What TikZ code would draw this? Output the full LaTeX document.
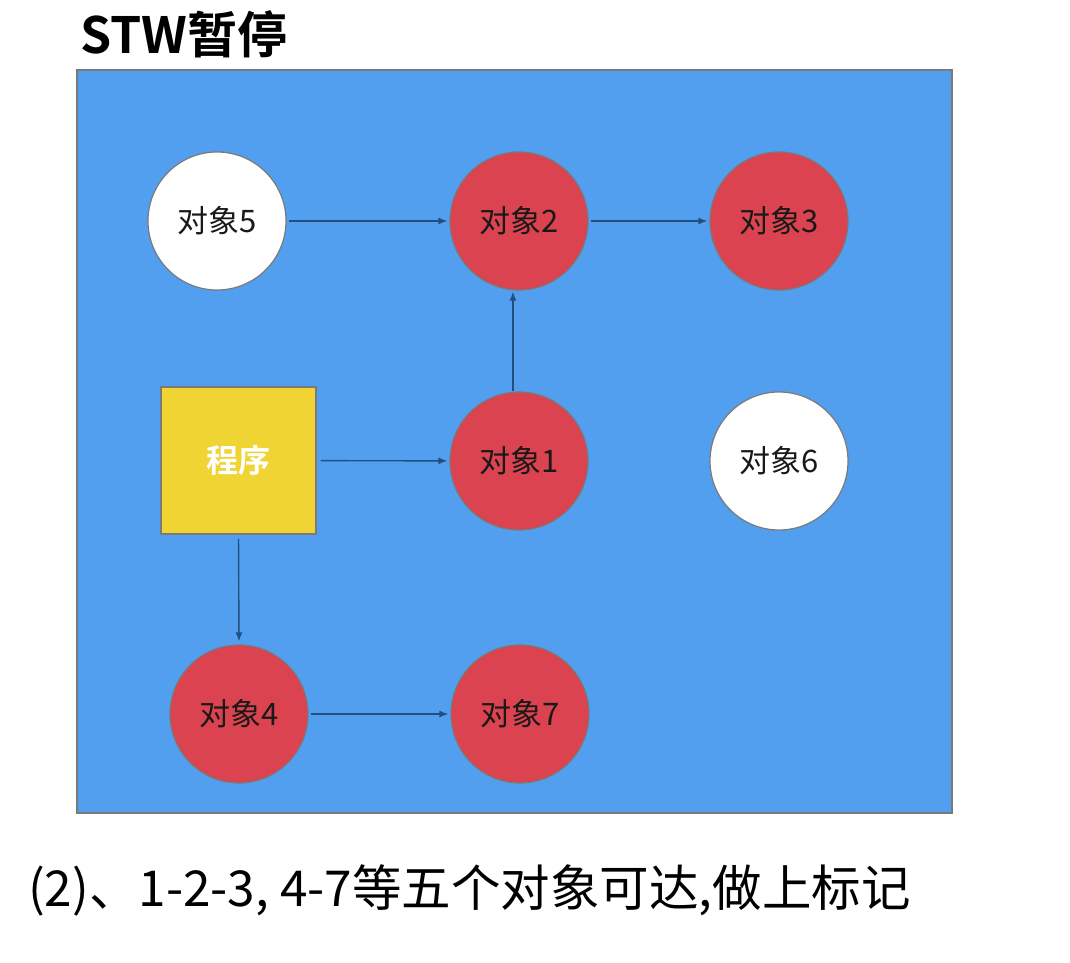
\documentclass[tikz,border=0pt]{standalone}
\usepackage{fontspec}
\setmainfont{Liberation Sans}
\newfontfamily\cjk{Noto Sans CJK SC}
\newfontfamily\cjkbold{Noto Sans CJK SC Bold}
\usetikzlibrary{arrows.meta}
\definecolor{bgblue}{HTML}{519FEE}
\definecolor{objred}{HTML}{DA434F}
\definecolor{progyellow}{HTML}{EFD434}
\definecolor{edgegray}{HTML}{7A7A7A}
\definecolor{arrowblue}{HTML}{21507E}
\tikzset{
  obj/.style={circle, draw=edgegray, line width=1.2pt, minimum size=138pt, inner sep=0pt, font=\cjk\fontsize{31}{33}\selectfont, text=black!90},
  redobj/.style={obj, fill=objred},
  whiteobj/.style={obj, fill=white},
  progbox/.style={rectangle, draw=edgegray, line width=1.2pt, fill=progyellow, minimum width=155pt, minimum height=147pt, inner sep=0pt, font=\cjkbold\fontsize{32}{34}\selectfont, text=white},
  conn/.style={draw=arrowblue, line width=1.4pt, -{Latex[length=9pt,width=7pt]}}
}
\begin{document}
\begin{tikzpicture}[x=1pt,y=-1pt]
\useasboundingbox (0,0) rectangle (1070,963);
\node[anchor=west, inner sep=0pt, font=\cjkbold\fontsize{50}{52}\selectfont] (title) at (80,34) {STW暂停};
\node[draw=edgegray, line width=1.2pt, fill=bgblue, minimum width=875pt, minimum height=743pt, inner sep=0pt] (panel) at (514.5,441.5) {};
\node[whiteobj] (o5) at (217,221) {对象5};
\node[redobj] (o2) at (519,221) {对象2};
\node[redobj] (o3) at (779,221) {对象3};
\node[redobj] (o1) at (519,461) {对象1};
\node[whiteobj] (o6) at (779,461) {对象6};
\node[redobj] (o4) at (239,714) {对象4};
\node[redobj] (o7) at (520,714) {对象7};
\node[progbox] (prog) at (238.5,460.5) {程序};
\draw[conn, shorten <=2pt, shorten >=2pt] (o5) -- (o2);
\draw[conn, shorten <=2pt, shorten >=2pt] (o2) -- (o3);
\draw[conn, shorten <=4pt, shorten >=2pt] (prog) -- (o1);
\draw[conn, shorten >=1pt] ([xshift=-6pt]o1.north) -- ([xshift=-6pt]o2.south);
\draw[conn, shorten <=4pt, shorten >=3pt] (prog.south) -- (o4.north);
\draw[conn, shorten <=2pt, shorten >=2pt] (o4) -- (o7);
\node[anchor=west, inner sep=0pt, font=\cjk\fontsize{49.5}{52}\selectfont] (caption) at (28,890) {(2)、1-2-3, 4-7等五个对象可达,做上标记};
\end{tikzpicture}
\end{document}
